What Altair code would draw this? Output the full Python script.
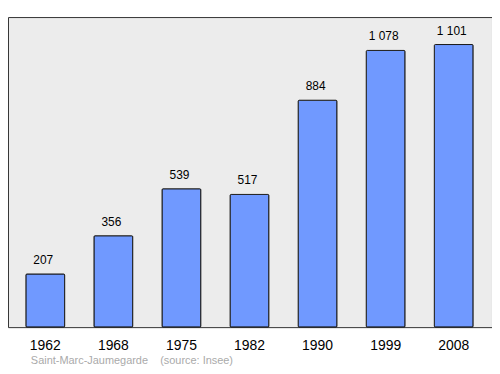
import altair as alt
import pandas as pd

years = ["1962", "1968", "1975", "1982", "1990", "1999", "2008"]
population = [207, 356, 539, 517, 884, 1078, 1101]
labels = ["207", "356", "539", "517", "884", "1 078", "1 101"]

df = pd.DataFrame({"year": years, "pop": population, "label": labels})

x = alt.X("year:N", sort=years, title=None,
          scale=alt.Scale(range=[18, 468], paddingInner=0.43, paddingOuter=0),
          axis=alt.Axis(labelAngle=0, labelFontSize=14, labelFont="Liberation Sans",
                        labelColor="#000", ticks=False, domain=False, labelPadding=12))
y = alt.Y("pop:Q", title=None, scale=alt.Scale(domain=[0, 1208], nice=False, zero=True),
          axis=None)

bars = alt.Chart(df).mark_bar(color="#7099ff", stroke="#1a1a1a", strokeWidth=1,
                              cornerRadius=1).encode(x=x, y=y)
text = alt.Chart(df).mark_text(baseline="alphabetic", dy=-10, dx=-2, fontSize=12,
                               font="Liberation Sans", color="#000").encode(
    x=alt.X("year:N", sort=years), y="pop:Q", text="label:N")

chart = (bars + text).properties(
    width=487, height=312,
    autosize=alt.AutoSizeParams(type="none"),
    padding={"left": 0, "top": 8, "right": 0, "bottom": 38},
    title=alt.TitleParams("Saint-Marc-Jaumegarde\u00a0\u00a0\u00a0 (source: Insee)",
                          orient="bottom", anchor="start", frame="group",
                          fontSize=11, font="Liberation Sans", fontWeight="normal",
                          color="#aaaaaa", dx=23, offset=2),
).configure_view(fill="#ececec", stroke="#333333", strokeWidth=1)

chart.save("out.html", embed_options={"renderer": "svg", "actions": False})
